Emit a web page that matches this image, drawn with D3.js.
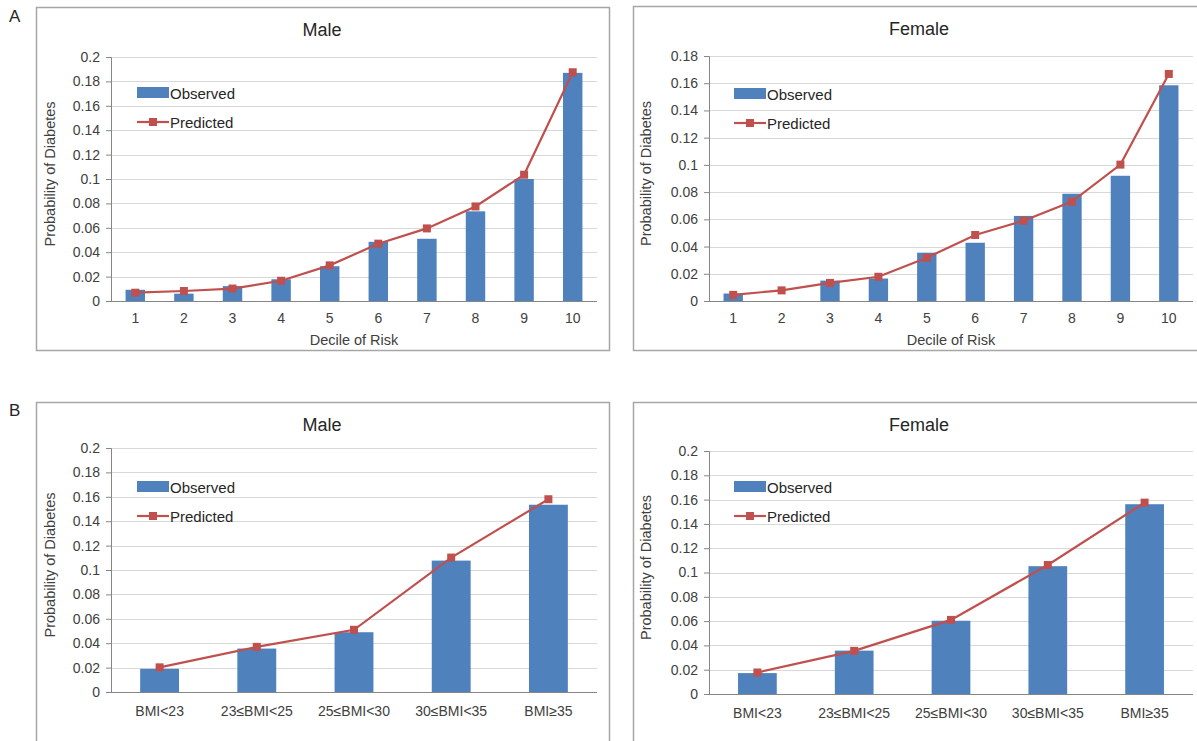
<!DOCTYPE html>
<html>
<head>
<meta charset="utf-8">
<script src="https://cdn.jsdelivr.net/npm/d3@7"></script>
<style>
  body { margin: 0; background: #fff; }
  svg { font-family: "Liberation Sans", Arial, sans-serif; }
  .grid line { stroke: #d9d9d9; }
  .tick text { fill: #404040; }
</style>
</head>
<body>
<div id="chart"></div>
<script>
// data
const deciles = ['1', '2', '3', '4', '5', '6', '7', '8', '9', '10'];
const bmiGroups = ['BMI<23', '23≤BMI<25', '25≤BMI<30', '30≤BMI<35', 'BMI≥35'];

const decileMaleObs = [0.0092, 0.006, 0.0122, 0.0178, 0.0285, 0.0485, 0.051, 0.0735, 0.100, 0.187];
const decileMalePred = [0.0068, 0.0082, 0.0102, 0.0166, 0.0292, 0.0470, 0.0595, 0.0775, 0.1035, 0.1875];
const decileFemaleObs = [0.0055, 0, 0.015, 0.0165, 0.0355, 0.0428, 0.0625, 0.0788, 0.092, 0.1585];
const decileFemalePred = [0.0045, 0.0078, 0.0133, 0.0178, 0.0318, 0.0485, 0.0590, 0.0730, 0.1002, 0.1668];
const bmiMaleObs = [0.019, 0.0356, 0.049, 0.1077, 0.1535];
const bmiMalePred = [0.0202, 0.0370, 0.0510, 0.1102, 0.1580];
const bmiFemaleObs = [0.0172, 0.0357, 0.0603, 0.1052, 0.1562];
const bmiFemalePred = [0.0177, 0.0355, 0.0610, 0.1062, 0.1575];

const ticks02 = [0, 0.02, 0.04, 0.06, 0.08, 0.1, 0.12, 0.14, 0.16, 0.18, 0.2];
const ticks018 = [0, 0.02, 0.04, 0.06, 0.08, 0.1, 0.12, 0.14, 0.16, 0.18];

const W = 1197, H = 741;
const svg = d3.select('#chart').append('svg')
  .attr('width', W)
  .attr('height', H);

const blue = '#4f81bd', red = '#c0504d';

function drawPanel(p) {
  // outer frame
  svg.append('rect')
    .attr('x', p.box[0] + 0.5).attr('y', p.box[1] + 0.5)
    .attr('width', p.box[2]).attr('height', p.box[3])
    .attr('fill', 'none').attr('stroke', '#a6a6a6').attr('stroke-width', 1.5);

  const x = d3.scaleBand().domain(p.cats).range([p.left, p.right]).paddingInner(0.6).paddingOuter(0.3);
  const y = d3.scaleLinear().domain([0, p.ymax]).range([p.bottom, p.top]);

  // gridlines
  svg.append('g').attr('class', 'grid')
    .selectAll('line').data(p.ticks.slice(1)).join('line')
      .attr('x1', p.left).attr('x2', p.right)
      .attr('y1', d => Math.round(y(d)) + 0.5).attr('y2', d => Math.round(y(d)) + 0.5);

  // y axis
  const yAxis = svg.append('g')
    .attr('transform', `translate(${p.left},0)`)
    .call(d3.axisLeft(y).tickValues(p.ticks).tickSize(5).tickPadding(6)
      .tickFormat(d => String(+d.toFixed(2))));
  yAxis.select('.domain').attr('stroke', '#868686');
  yAxis.selectAll('.tick line').attr('stroke', '#868686');
  yAxis.selectAll('text').attr('font-size', 14);

  // x axis
  const xAxis = svg.append('g')
    .attr('transform', `translate(0,${p.bottom})`)
    .call(d3.axisBottom(x).tickSize(0).tickPadding(p.xPad).tickSizeOuter(0));
  xAxis.select('.domain').attr('stroke', '#868686').attr('d', `M${p.left},0.5H${p.right}`);
  xAxis.selectAll('text').attr('font-size', 14);

  // bars
  svg.append('g').selectAll('rect').data(p.obs).join('rect')
    .attr('x', (d, i) => x(p.cats[i]))
    .attr('width', x.bandwidth())
    .attr('y', d => y(d))
    .attr('height', d => p.bottom - y(d))
    .attr('fill', blue);

  // predicted line
  const cx = i => x(p.cats[i]) + x.bandwidth() / 2;
  svg.append('path')
    .datum(p.pred)
    .attr('fill', 'none').attr('stroke', red).attr('stroke-width', 2.2)
    .attr('d', d3.line().x((d, i) => cx(i)).y(d => y(d)));
  svg.append('g').selectAll('rect').data(p.pred).join('rect')
    .attr('x', (d, i) => cx(i) - 4).attr('y', d => y(d) - 4)
    .attr('width', 8).attr('height', 8)
    .attr('fill', red);

  // title
  svg.append('text')
    .attr('x', p.titleX).attr('y', p.box[1] + 29)
    .attr('text-anchor', 'middle').attr('font-size', 18).attr('fill', '#262626')
    .text(p.title);

  // y title
  svg.append('text')
    .attr('transform', `translate(${p.yTitleX},${(p.top + p.bottom) / 2 - 5}) rotate(-90)`)
    .attr('text-anchor', 'middle').attr('font-size', 14.5).attr('fill', '#404040')
    .text('Probability of Diabetes');

  if (p.xTitle) {
    svg.append('text')
      .attr('x', (p.left + p.right) / 2).attr('y', p.bottom + 44)
      .attr('text-anchor', 'middle').attr('font-size', 14.5).attr('fill', '#404040')
      .text(p.xTitle);
  }

  // legend
  const lg = svg.append('g').attr('transform', `translate(${p.legend[0]},${p.legend[1]})`);
  lg.append('rect').attr('x', 0).attr('y', -6).attr('width', 32).attr('height', 11).attr('fill', blue);
  lg.append('text').attr('x', 33).attr('y', 5.5).attr('font-size', 15).attr('fill', '#262626').text('Observed');
  lg.append('line').attr('x1', 0).attr('x2', 32).attr('y1', 29).attr('y2', 29)
    .attr('stroke', red).attr('stroke-width', 2.2);
  lg.append('rect').attr('x', 12).attr('y', 25).attr('width', 8).attr('height', 8).attr('fill', red);
  lg.append('text').attr('x', 33).attr('y', 34.5).attr('font-size', 15).attr('fill', '#262626').text('Predicted');
}

// panel letters
svg.append('text').attr('x', 9).attr('y', 22).attr('font-size', 17).attr('fill', '#262626').text('A');
svg.append('text').attr('x', 9).attr('y', 416).attr('font-size', 17).attr('fill', '#262626').text('B');

drawPanel({
  box: [36, 7, 573, 343], left: 111, right: 597, top: 57, bottom: 301,
  cats: deciles, obs: decileMaleObs, pred: decileMalePred, ymax: 0.2, ticks: ticks02,
  title: 'Male', titleX: 322, yTitleX: 55, xTitle: 'Decile of Risk', xPad: 12, legend: [137, 93]
});
drawPanel({
  box: [633, 6, 580, 344], left: 709, right: 1193, top: 56, bottom: 301,
  cats: deciles, obs: decileFemaleObs, pred: decileFemalePred, ymax: 0.18, ticks: ticks018,
  title: 'Female', titleX: 919, yTitleX: 651, xTitle: 'Decile of Risk', xPad: 12, legend: [734, 94]
});
drawPanel({
  box: [36, 402, 573, 360], left: 111, right: 597, top: 448, bottom: 692,
  cats: bmiGroups, obs: bmiMaleObs, pred: bmiMalePred, ymax: 0.2, ticks: ticks02,
  title: 'Male', titleX: 322, yTitleX: 55, xTitle: null, xPad: 14, legend: [137, 487]
});
drawPanel({
  box: [633, 402, 580, 360], left: 709, right: 1193, top: 451, bottom: 694,
  cats: bmiGroups, obs: bmiFemaleObs, pred: bmiFemalePred, ymax: 0.2, ticks: ticks02,
  title: 'Female', titleX: 919, yTitleX: 651, xTitle: null, xPad: 14, legend: [734, 487]
});
</script>
</body>
</html>
